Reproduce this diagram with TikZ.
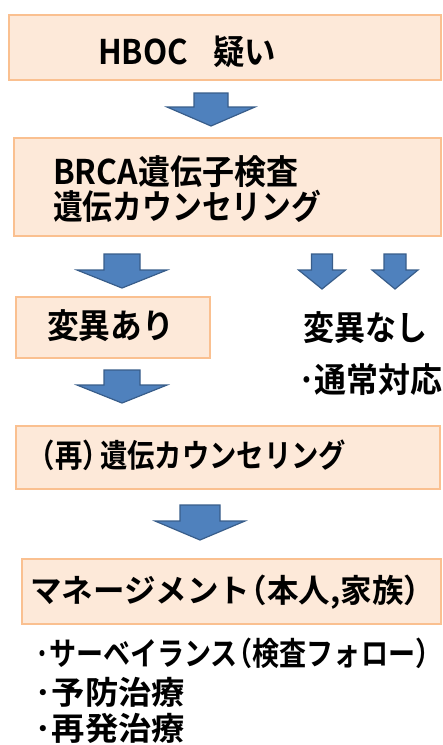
\documentclass[tikz,border=0pt]{standalone}
\usepackage{fontspec}
\usepackage{graphicx}
\newfontfamily\jp{Noto Sans CJK JP}[BoldFont={Noto Sans CJK JP Bold}]
\definecolor{boxfill}{RGB}{253,233,217}
\definecolor{boxline}{RGB}{250,192,144}
\definecolor{arrfill}{RGB}{79,129,189}
\definecolor{arrline}{RGB}{56,93,138}
\newlength\fitwd
\newcommand\fitto[2]{\sbox0{#2}\fitwd=\wd0\pgfmathsetmacro\fitfac{#1/\fitwd}\scalebox{\fitfac}[1]{\usebox0}}
\newcommand\barrow[6]{%
  \path[fill=arrfill,draw=arrline,line width=1.2pt,line join=miter]
   ({#1-#6},#2) -- ({#1+#6},#2) -- ({#1+#6},#3) -- ({#1+#5},#3) -- (#1,#4)
   -- ({#1-#5},#3) -- ({#1-#6},#3) -- cycle;}
\newcommand\dotsep{\kern-0.1em·\kern-0.05em}
\tikzset{
  box/.style={draw=boxline,fill=boxfill,line width=2pt,rectangle,inner sep=0pt,anchor=north west},
  txt/.style={inner sep=0pt,anchor=west,text=black,font=\jp\bfseries\fontsize{34}{38}\selectfont},
  stxt/.style={txt,font=\jp\bfseries\fontsize{32}{36}\selectfont}
}
\begin{document}
\begin{tikzpicture}[x=1pt,y=-1pt]
\useasboundingbox (0,0) rectangle (443,745);
% boxes
\node[box,minimum width=432,minimum height=65] (b1) at (8,14) {};
\node[box,minimum width=427,minimum height=98] (b2) at (13,137) {};
\node[box,minimum width=194,minimum height=61] (b3) at (15,296) {};
\node[box,minimum width=424,minimum height=63] (b4) at (15,425) {};
\node[box,minimum width=419,minimum height=65] (b5) at (21,558) {};
% arrows
\barrow{211}{93}{107}{126}{44}{17}
\barrow{122}{254}{270}{288}{45}{18}
\barrow{322}{254}{270}{289}{23.5}{10.5}
\barrow{395}{254}{270}{289}{23}{11}
\barrow{122}{370}{385}{403}{45}{18}
\barrow{200}{505}{521}{540}{45}{20}
% texts
\node[txt] (t1) at (98,52) {\fitto{178}{HBOC\hspace{0.8em}疑い}};
\node[txt] (t2) at (53,172) {\fitto{245}{BRCA遺伝子検査}};
\node[txt] (t3) at (53,206) {\fitto{268}{遺伝カウンセリング}};
\node[txt] (t4) at (47,326) {\fitto{127}{変異あり}};
\node[txt] (t5) at (303,328) {\fitto{124}{変異なし}};
\node[txt] (t6) at (300,380) {\fitto{142}{\dotsep 通常対応}};
\node[stxt] (t7) at (40,455) {\fitto{306}{\kern-0.45em（再）\kern-0.35em 遺伝カウンセリング}};
\node[stxt] (t8) at (30,592) {\fitto{405}{マネージメント\kern-0.45em（本人,家族）}};
\node[stxt] (t9) at (37,653) {\fitto{405}{\dotsep サーベイランス\kern-0.45em（検査フォロー）}};
\node[stxt] (t10) at (37,692) {\fitto{148}{\dotsep 予防治療}};
\node[stxt] (t11) at (37,728) {\fitto{148}{\dotsep 再発治療}};
\end{tikzpicture}
\end{document}
